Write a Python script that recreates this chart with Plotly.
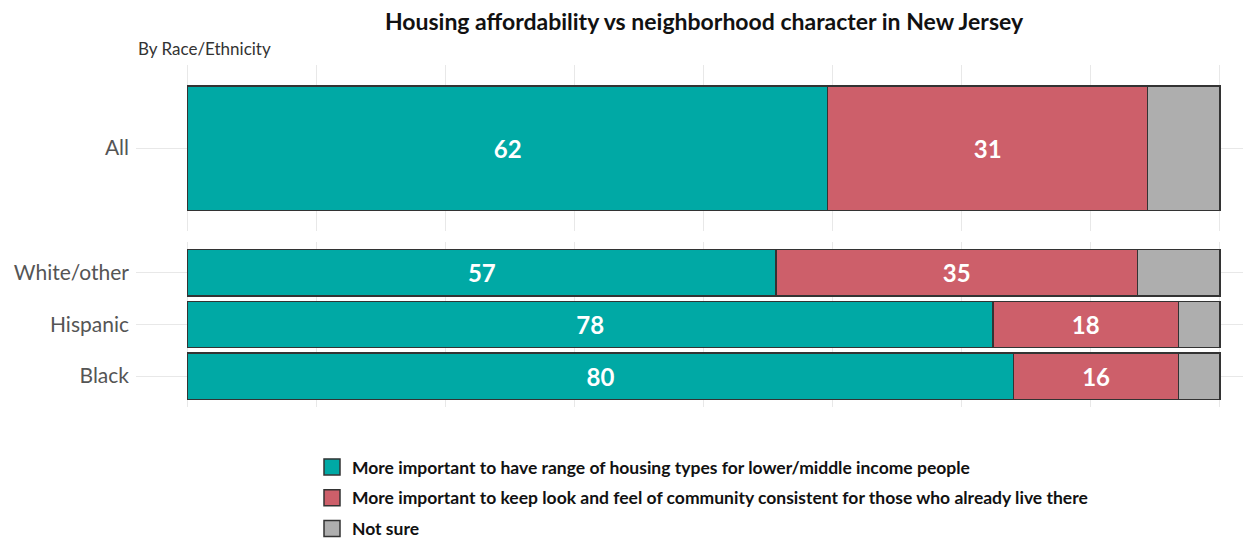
import plotly.graph_objects as go
from plotly.subplots import make_subplots

# Survey shares (%) by group
top_groups = ["All"]
top_range = [62]
top_keep = [31]
top_unsure = [7]

race_groups = ["White/other", "Hispanic", "Black"]
race_range = [57, 78, 80]
race_keep = [35, 18, 16]
race_unsure = [8, 4, 4]

series_names = [
    "More important to have range of housing types for lower/middle income people",
    "More important to keep look and feel of community consistent for those who already live there",
    "Not sure",
]
colors = ["#00A9A5", "#CD5F6A", "#AEAEAE"]
outline = "#333333"
FONT = "Lato"

W, H = 1243, 540
L = 136  # left edge of the panels in px
px_per_unit = 10.32
x_min = -5
x_max = 100 + (W - 1220) / px_per_unit

fig = make_subplots(rows=2, cols=1, shared_xaxes=True, vertical_spacing=0.02)


def add_stack(groups, vals_list, row):
    for i, vals in enumerate(vals_list):
        show_text = i < 2
        fig.add_trace(
            go.Bar(
                y=groups,
                x=vals,
                orientation="h",
                width=0.9,
                marker=dict(color=colors[i], line=dict(color=outline, width=1.5)),
                text=[str(v) for v in vals] if show_text else None,
                textposition="inside" if show_text else "none",
                insidetextanchor="middle",
                textangle=0,
                constraintext="none",
                textfont=dict(family=FONT, size=24, color="white", weight="bold"),
                showlegend=False,
                hoverinfo="skip",
            ),
            row=row,
            col=1,
        )


add_stack(top_groups, [top_range, top_keep, top_unsure], 1)
add_stack(race_groups, [race_range, race_keep, race_unsure], 2)

# Legend entries with large square keys
for i, name in enumerate(series_names):
    fig.add_trace(
        go.Scatter(
            x=[None],
            y=[None],
            mode="markers",
            name=name,
            legendgroup=f"g{i}",
            marker=dict(symbol="square", size=20, color=colors[i], line=dict(color=outline, width=1.5)),
            showlegend=True,
        ),
        row=2,
        col=1,
    )

grid = "#E8E8E8"
fig.update_xaxes(
    range=[x_min, x_max],
    tick0=0,
    dtick=12.5,
    showgrid=True,
    gridcolor=grid,
    gridwidth=1,
    zeroline=False,
    showticklabels=False,
    showline=False,
    ticks="",
)

fig.update_yaxes(
    showgrid=True,
    gridcolor=grid,
    gridwidth=1,
    zeroline=False,
    showline=False,
    ticks="",
    tickfont=dict(family=FONT, size=21, color="#555555"),
    ticklabelstandoff=6,
)
fig.update_yaxes(categoryorder="array", categoryarray=top_groups, range=[-0.6, 0.6], row=1, col=1)
fig.update_yaxes(categoryorder="array", categoryarray=race_groups, range=[2.6, -0.6], row=2, col=1)

fig.update_layout(
    yaxis=dict(domain=[1 - 231 / H, 1 - 65 / H]),
    yaxis2=dict(domain=[1 - 407 / H, 1 - 242 / H]),
)

fig.update_layout(
    width=W,
    height=H,
    barmode="stack",
    bargap=0.1,
    plot_bgcolor="white",
    paper_bgcolor="white",
    margin=dict(l=L, r=0, t=0, b=0, autoexpand=False),
    font=dict(family=FONT, color="#222222"),
    title=dict(
        text="Housing affordability vs neighborhood character in New Jersey",
        font=dict(family=FONT, size=23, color="#111111", weight="bold"),
        x=704 / W,
        xref="container",
        xanchor="center",
        y=1 - 22 / H,
        yref="container",
        yanchor="middle",
    ),
    annotations=[
        dict(
            text="By Race/Ethnicity",
            x=0,
            xref="paper",
            y=1 - 48 / H,
            yref="paper",
            showarrow=False,
            xanchor="left",
            yanchor="middle",
            font=dict(family=FONT, size=17, color="#333333"),
        )
    ],
    legend=dict(
        x=(312 - L) / (W - L),
        xanchor="left",
        y=1 - 449 / H,
        yanchor="top",
        traceorder="grouped",
        tracegroupgap=5,
        font=dict(family=FONT, size=17.5, color="#111111", weight="bold"),
        bgcolor="rgba(0,0,0,0)",
    ),
)

fig.write_html("out.html")
